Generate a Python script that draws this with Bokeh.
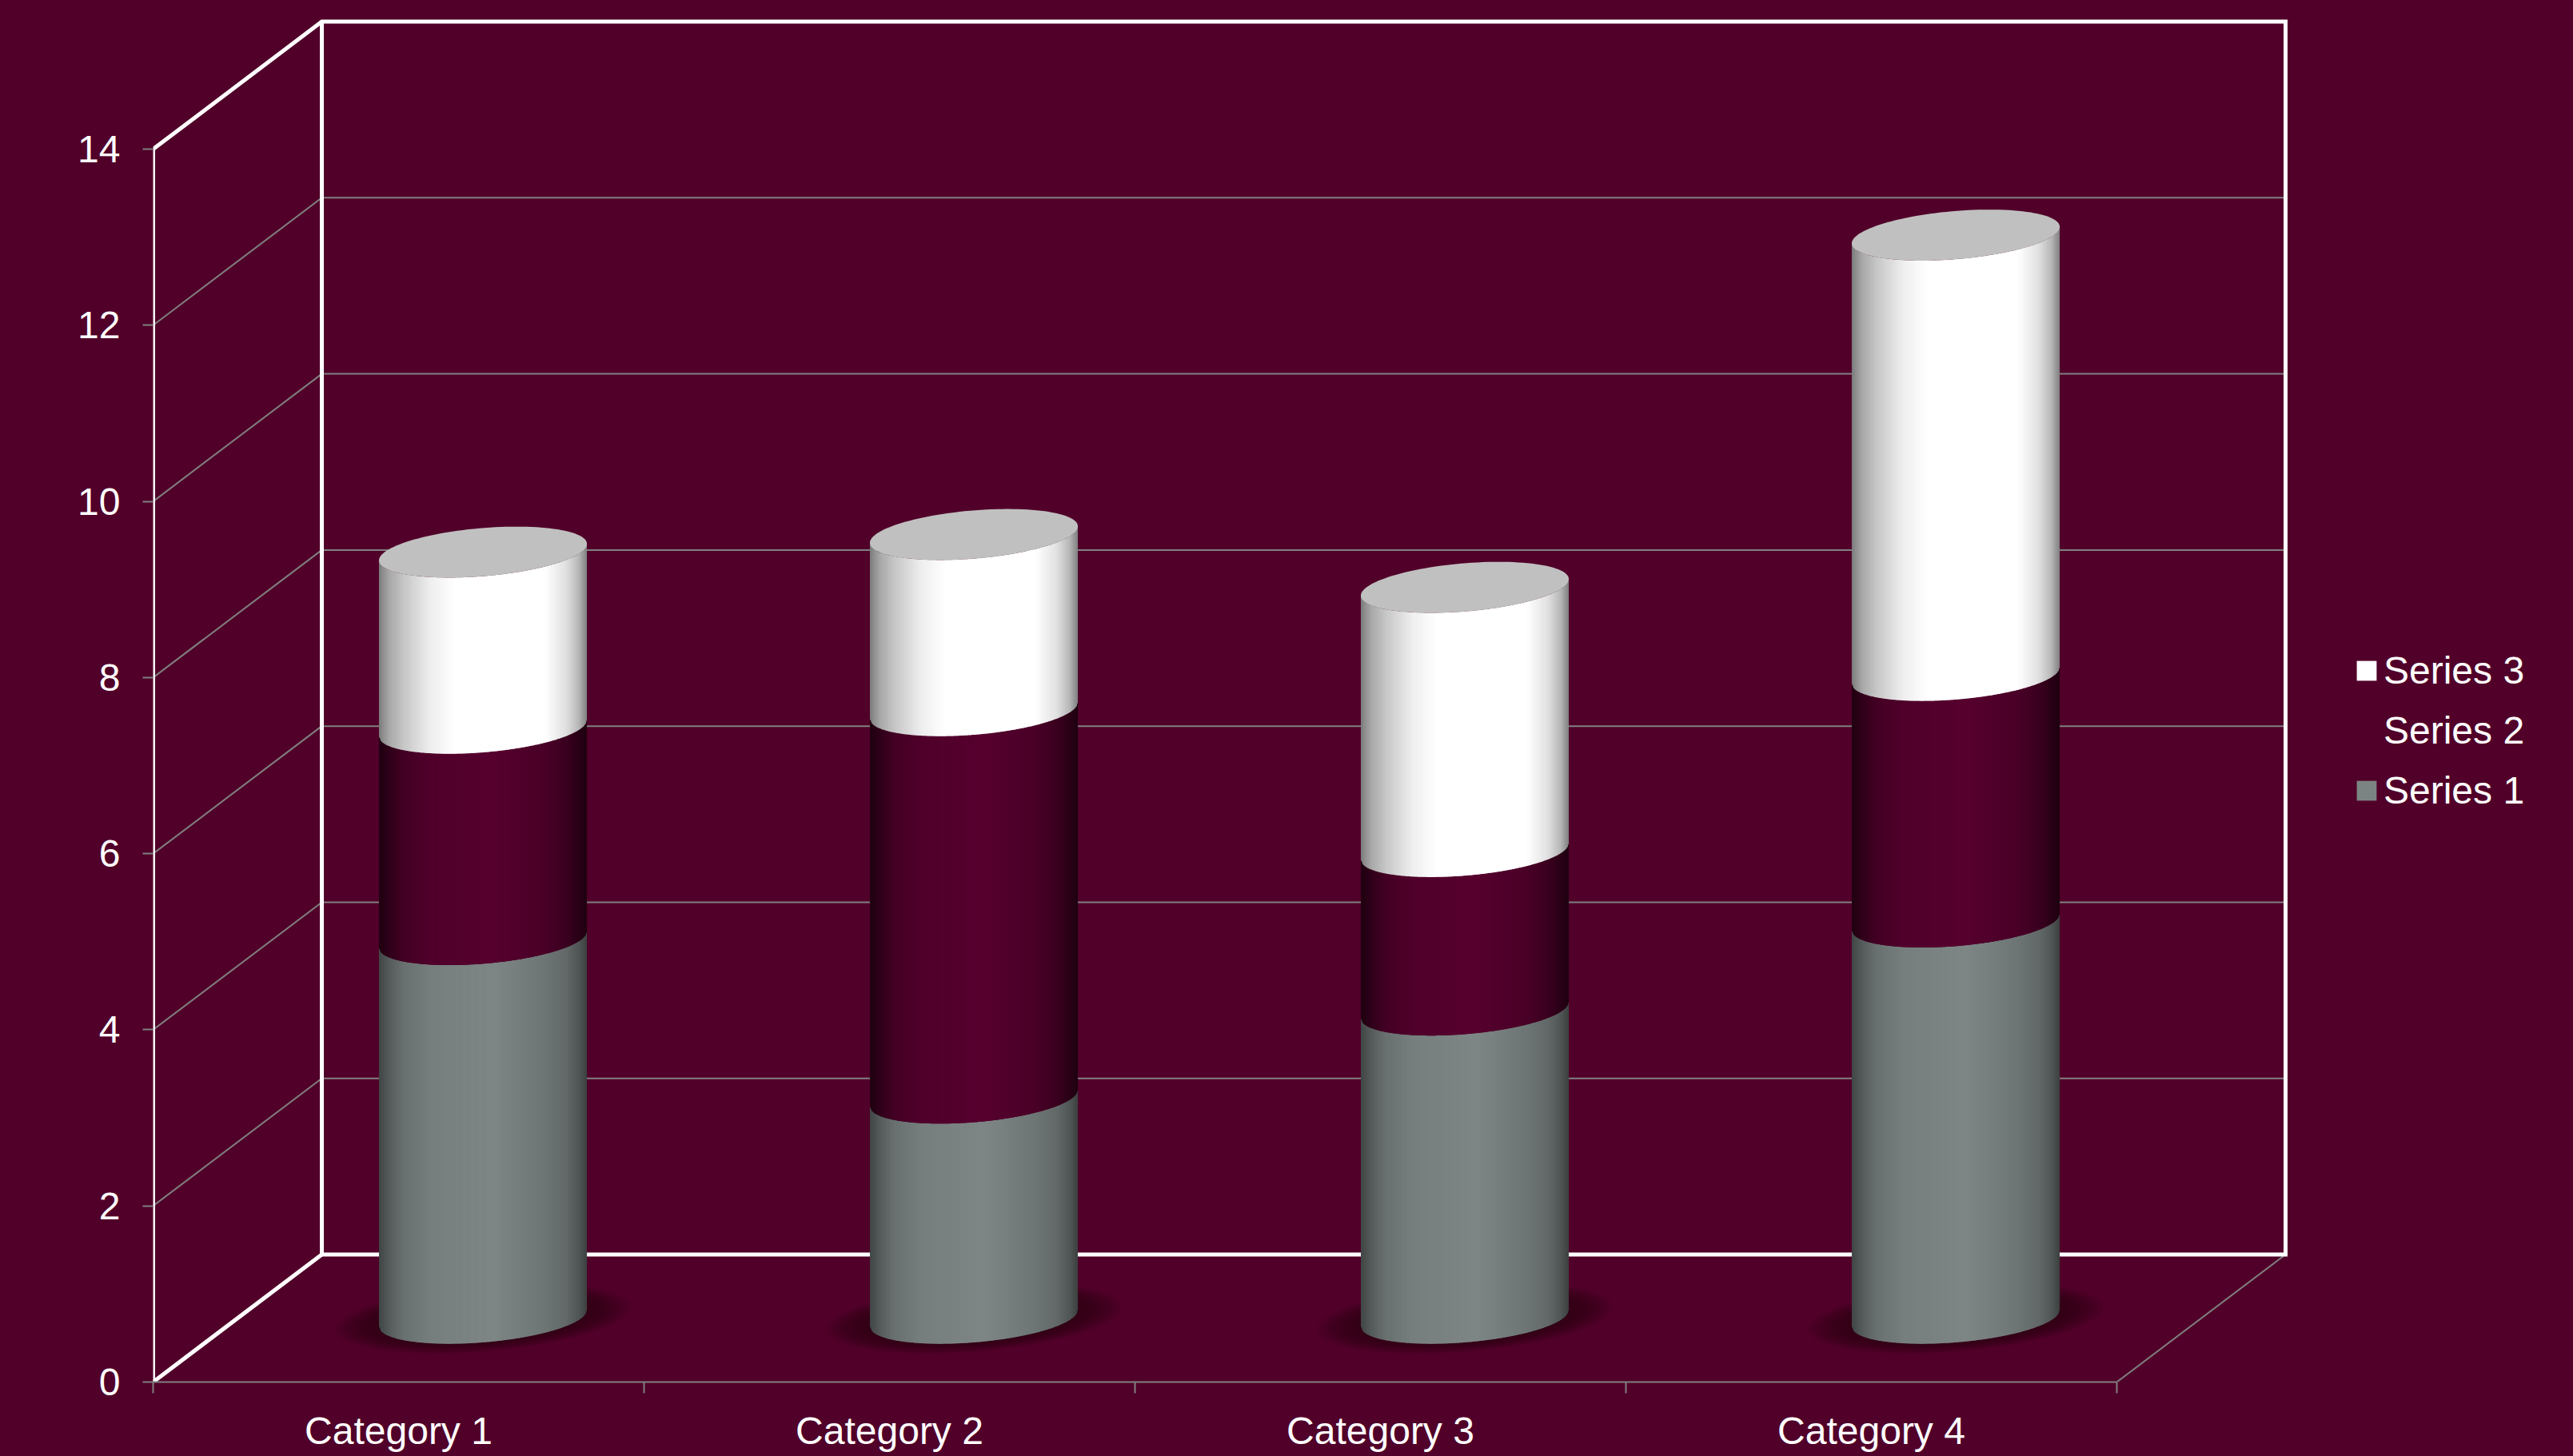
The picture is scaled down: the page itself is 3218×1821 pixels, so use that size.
import numpy as np
from bokeh.plotting import figure
from bokeh.models import (Range1d, LinearAxis, FixedTicker, Legend, LegendItem)
from bokeh.embed import file_html
from bokeh.resources import INLINE

categories = ["Category 1", "Category 2", "Category 3", "Category 4"]
series_names = ["Series 1", "Series 2", "Series 3"]
series1 = [4.3, 2.5, 3.5, 4.5]
series2 = [2.4, 4.4, 1.8, 2.8]
series3 = [2.0, 2.0, 3.0, 5.0]
y_ticks = [0, 2, 4, 6, 8, 10, 12, 14]

BG = "#510029"
GRID = "#808080"
FONT = "Liberation Sans"
FS = "48px"

PX_X = 614.0      # pixels per category
PX_Y = 110.14     # pixels per value unit
DX = 211.0 / PX_X  # depth offset of the chart box
DY = 159.5 / PX_Y

W, H = 3218, 1821
L, T = 191, 0
FH = 1728
B = H - FH
p = figure(width=W, height=H, output_backend="svg", toolbar_location=None,
           x_range=Range1d(0, (W - L) / PX_X), y_range=Range1d(0, FH / PX_Y),
           x_axis_type=None, y_axis_type=None,
           min_border_left=L, min_border_right=0, min_border_top=T, min_border_bottom=B,
           background_fill_color=BG, border_fill_color=BG, outline_line_color=None)
p.grid.visible = False

# axes
yax = LinearAxis(ticker=FixedTicker(ticks=y_ticks), axis_line_color=None,
                 major_tick_in=0, major_tick_out=13, minor_tick_out=0, minor_tick_in=0,
                 major_tick_line_color=GRID, major_tick_line_width=2,
                 major_label_text_color="#ffffff", major_label_text_font=FONT,
                 major_label_text_font_size=FS, major_label_standoff=28)
p.add_layout(yax, "left")
centers = [i + 0.5 for i in range(len(categories))]
xax = LinearAxis(ticker=FixedTicker(ticks=centers, minor_ticks=list(range(len(categories) + 1))),
                 major_label_overrides={c: n for c, n in zip(centers, categories)},
                 bounds=(0, len(categories)), axis_line_color=GRID, axis_line_width=2,
                 major_tick_in=0, major_tick_out=0, minor_tick_in=0, minor_tick_out=14,
                 minor_tick_line_color=GRID, minor_tick_line_width=2,
                 major_label_text_color="#ffffff", major_label_text_font=FONT,
                 major_label_text_font_size=FS, major_label_standoff=20)
p.add_layout(xax, "below")

# wall gridlines
n = len(categories)
for v in y_ticks[1:-1]:
    p.line([0, DX, n + DX], [v, v + DY, v + DY], line_color=GRID, line_width=2)
# floor right edge
p.line([n, n + DX], [0, DY], line_color=GRID, line_width=2)
# white chart box
top = y_ticks[-1]
p.line([0, 0, DX, n + DX, n + DX, DX, DX], [0, top, top + DY, top + DY, DY, DY, top + DY],
       line_color="#ffffff", line_width=5, line_join="miter")
p.line([0, DX], [0, DY], line_color="#ffffff", line_width=5)

# cylinders
A = 123.0 / PX_X
RD = 0.2          # depth radius as part of the box depth
BX = RD * DX
CY = RD * DY
R = float(np.hypot(A, BX))
TR = float(np.arctan2(BX, A))


def lower(s):
    phi = 2 * np.pi - np.arccos(np.clip(s / R, -1, 1))
    return CY * np.sin(phi + TR)


def ellipse(k=1.0, m=1.0):
    t = np.linspace(0, 2 * np.pi, 121)
    return k * (A * np.cos(t)) + m * BX * np.sin(t), m * CY * np.sin(t)


f_pts = [0, .02, .05, .12, .25, .55, .8, .9, .96, 1]
gray_m = [.52, .58, .68, .84, .94, 1, .87, .78, .64, .48]
white_m = [.48, .56, .66, .78, .94, 1.1, 1.0, .88, .72, .5]
maroon_m = [.38, .42, .55, .78, .92, 1, .84, .68, .48, .35]
looks = [("#7e8786", gray_m), ("#57002f", maroon_m), ("#ffffff", white_m)]


def shade(base, m):
    rgb = [int(base[i:i + 2], 16) for i in (1, 3, 5)]
    return "#%02x%02x%02x" % tuple(min(255, int(c * m)) for c in rgb)


edges = np.arange(-R, R + 1e-9, 2.0 / PX_X)
edges[-1] = R

sx, sy, sc = [], [], []
for i in range(n):
    cx = i + 0.5 + 0.5 * DX
    cy = 0.5 * DY
    for j in range(10):
        k = 1.42 - 0.045 * j
        ex, ey = ellipse(k, k * 0.97)
        sx.append(list(cx + ex)); sy.append(list(cy + ey)); sc.append("#2a0013")
p.patches(sx, sy, fill_color=sc, fill_alpha=0.12, line_color=None)

xs, ys, cs = [], [], []
for i in range(n):
    cx = i + 0.5 + 0.5 * DX
    cy = 0.5 * DY
    base = 0.0
    for vals, (color, mult) in zip((series1, series2, series3), looks):
        v0, v1 = base, base + vals[i]
        for a, b in zip(edges[:-1], edges[1:]):
            bb = min(b + 1.0 / PX_X, R)
            g = float(np.interp((0.5 * (a + b) + R) / (2 * R), f_pts, mult))
            xs.append([cx + a, cx + bb, cx + bb, cx + a])
            ys.append([cy + v0 + lower(a), cy + v0 + lower(bb), cy + v1 + lower(bb), cy + v1 + lower(a)])
            cs.append(shade(color, g))
        base = v1
p.patches(xs, ys, fill_color=cs, line_color=None)

ex, ey = ellipse()
caps_x, caps_y = [], []
for i in range(n):
    caps_x.append(list(i + 0.5 + 0.5 * DX + ex))
    caps_y.append(list(0.5 * DY + series1[i] + series2[i] + series3[i] + ey))
p.patches(caps_x, caps_y, fill_color="#c0c0c0", line_color=None)

# legend
legend_colors = ["#7b8483", BG, "#ffffff"]
items = []
for name, c in reversed(list(zip(series_names, legend_colors))):
    r = p.quad(left=[np.nan], right=[np.nan], top=[np.nan], bottom=[np.nan], fill_color=c, line_color=None)
    items.append(LegendItem(label=name, renderers=[r]))
leg = Legend(items=items, location=(2753, 712), orientation="vertical",
             background_fill_alpha=0, border_line_color=None, padding=0, margin=0,
             glyph_width=31, glyph_height=31, label_standoff=6, spacing=20, label_height=54,
             label_text_color="#ffffff", label_text_font=FONT, label_text_font_size=FS)
p.add_layout(leg, "center")

html = file_html(p, INLINE)
html = html.replace("</head>", "<style>html,body{background:%s;margin:0!important;overflow:hidden}</style></head>" % BG)
open("out.html", "w").write(html)
